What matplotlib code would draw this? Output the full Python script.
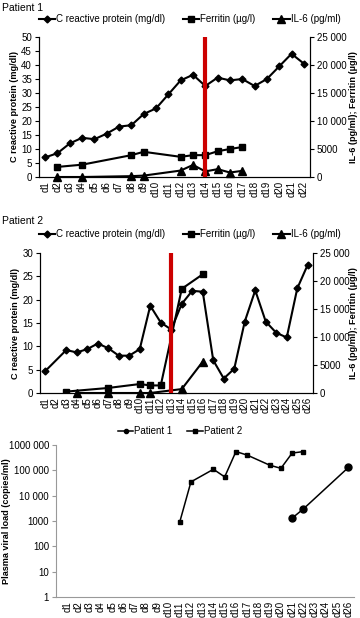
import matplotlib
matplotlib.use('Agg')
import matplotlib.pyplot as plt
from matplotlib.lines import Line2D

plt.rcParams['font.family'] = ['Liberation Sans', 'DejaVu Sans']
plt.rcParams['font.size'] = 7

# ---- data ----
p1_days = ['d%d' % i for i in range(1, 23)]
p2_days = ['d%d' % i for i in range(1, 27)]

# patient 1
crp1_days = p1_days
crp1 = [7, 8.5, 12, 14, 13.5, 15.5, 18, 18.5, 22.5, 24.5, 29.5, 34.5, 36.5,
        32.5, 35.5, 34.5, 35, 32.5, 35, 39.5, 44, 40.5]
ferr1_days = ['d2', 'd4', 'd8', 'd9', 'd12', 'd13', 'd14', 'd15', 'd16', 'd17']
ferr1 = [1800, 2200, 3900, 4500, 3600, 3900, 3900, 4600, 5000, 5350]
il6_1_days = ['d2', 'd4', 'd8', 'd9', 'd12', 'd13', 'd14', 'd15', 'd16', 'd17']
il6_1 = [0, 0, 150, 250, 1150, 2150, 1000, 1400, 800, 1100]
event1 = 'd14'

# patient 2
crp2_days = ['d1', 'd3', 'd4', 'd5', 'd6', 'd7', 'd8', 'd9', 'd10', 'd11', 'd12',
             'd13', 'd14', 'd15', 'd16', 'd17', 'd18', 'd19', 'd20', 'd21', 'd22',
             'd23', 'd24', 'd25', 'd26']
crp2 = [4.7, 9.2, 8.7, 9.4, 10.6, 9.6, 8, 8, 9.4, 18.7, 15.1, 13.6, 19.1, 21.9,
        21.7, 7, 3.1, 5.2, 15.3, 22, 15.3, 12.9, 11.9, 22.4, 27.5]
ferr2_days = ['d3', 'd7', 'd10', 'd11', 'd12', 'd14', 'd16']
ferr2 = [250, 900, 1600, 1350, 1350, 18600, 21200]
il6_2_days = ['d4', 'd7', 'd10', 'd11', 'd14', 'd16']
il6_2 = [0, 0, 0, 0, 700, 5600]
event2 = 'd13'

# viral load
vl1_days = ['d11', 'd12', 'd14', 'd15', 'd16', 'd17', 'd19', 'd20', 'd21', 'd22']
vl1 = [900, 35000, 110000, 55000, 550000, 400000, 160000, 120000, 480000, 550000]
vl2_days = ['d21', 'd22', 'd26']
vl2 = [1300, 3000, 130000]
vl_ticks = [1, 10, 100, 1000, 10000, 100000, 1000000]
vl_ticklabels = ['1', '10', '100', '1000', '10 000', '100 000', '1000 000']
right_ticks = [0, 5000, 10000, 15000, 20000, 25000]
right_ticklabels = ['0', '5000', '10 000', '15 000', '20 000', '25 000']

W, H = 360, 618
fig = plt.figure(figsize=(W / 100, H / 100), dpi=100)


def box(l, r, t, b):
    return [l / W, 1 - b / H, (r - l) / W, (b - t) / H]


def idx(days, cats):
    return [cats.index(d) for d in days]


def inflam_panel(rect, cats, crp_days, crp, ferr_days, ferr, il6_days, il6,
                 event, ymax, lab_left, lab_right):
    ax = fig.add_axes(rect)
    ax2 = ax.twinx()
    ax.set_zorder(ax2.get_zorder() + 1)
    ax.patch.set_visible(False)
    ax.plot(idx(crp_days, cats), crp, color='black', lw=1.5, marker='D', ms=3.5)
    ax2.plot(idx(ferr_days, cats), ferr, color='black', lw=1.5, marker='s', ms=5)
    ax2.plot(idx(il6_days, cats), il6, color='black', lw=1.5, marker='^', ms=6,
             clip_on=False)
    ax.axvline(cats.index(event), color='#cc0000', lw=3, zorder=5)
    ax.set_xlim(-0.5, len(cats) - 0.5)
    ax.set_ylim(0, ymax)
    ax2.set_ylim(0, 25000)
    ax.set_yticks(range(0, ymax + 1, 5))
    ax2.set_yticks(right_ticks)
    ax2.set_yticklabels(right_ticklabels)
    ax.set_xticks(range(len(cats)))
    ax.set_xticklabels(cats, rotation=90)
    for a in (ax, ax2):
        a.spines['top'].set_visible(False)
        a.tick_params(length=3, width=0.8, pad=2, labelsize=7)
    ax.tick_params(axis='x', length=0, pad=3)
    ax.set_ylabel('C reactive protein (mg/dl)', fontweight='bold', fontsize=6.6)
    ax2.set_ylabel('IL-6 (pg/ml); Ferritin (µg/l)', fontweight='bold', fontsize=6.6)
    ax.yaxis.set_label_coords(lab_left, 0.5)
    ax2.yaxis.set_label_coords(lab_right, 0.5)
    return ax


def inflam_legend(y):
    handles = [Line2D([], [], color='black', lw=1.5, marker='D', ms=3.5),
               Line2D([], [], color='black', lw=1.5, marker='s', ms=5),
               Line2D([], [], color='black', lw=1.5, marker='^', ms=5.5)]
    labels = ['C reactive protein (mg/dl)', 'Ferritin (µg/l)', 'IL-6 (pg/ml)']
    fig.legend(handles, labels, loc='center left',
               bbox_to_anchor=(30 / W, 1 - y / H),
               ncol=3, frameon=False, fontsize=7, handlelength=1.7,
               handletextpad=0.1, columnspacing=1.8)


# ---- Patient 1 ----
fig.text(2 / W, 1 - 8 / H, 'Patient 1', fontsize=7.5, va='center')
inflam_legend(19)
inflam_panel(box(39, 310, 37, 177), p1_days, crp1_days, crp1, ferr1_days, ferr1,
             il6_1_days, il6_1, event1, 50, -0.074, 1.145)

# ---- Patient 2 ----
fig.text(2 / W, 1 - 221 / H, 'Patient 2', fontsize=7.5, va='center')
inflam_legend(234)
inflam_panel(box(40, 313, 253, 393), p2_days, crp2_days, crp2, ferr2_days, ferr2,
             il6_2_days, il6_2, event2, 30, -0.073, 1.133)

# ---- Viral load ----
ax3 = fig.add_axes(box(56, 354, 445, 597))
ax3.plot(idx(vl1_days, p2_days), vl1, color='black', lw=1.1, marker='s', ms=3.5,
         label='Patient 1')
ax3.plot(idx(vl2_days, p2_days), vl2, color='black', lw=1.1, marker='o', ms=5,
         label='Patient 2')
ax3.set_yscale('log')
ax3.set_ylim(1, 1000000)
ax3.set_yticks(vl_ticks)
ax3.set_yticklabels(vl_ticklabels)
ax3.minorticks_off()
ax3.set_xlim(-1, 25.5)
ax3.set_xticks(range(len(p2_days)))
ax3.set_xticklabels(p2_days, rotation=90)
for s in ('top', 'right'):
    ax3.spines[s].set_visible(False)
for s in ('left', 'bottom'):
    ax3.spines[s].set_color('#999999')
ax3.tick_params(axis='y', length=3, color='#999999', pad=2, labelsize=7)
ax3.tick_params(axis='x', length=0, pad=3, labelsize=7)
ax3.set_ylabel('Plasma viral load (copies/ml)', fontweight='bold', fontsize=6.6)
ax3.yaxis.set_label_coords(-0.152, 0.5)
leg_handles = [Line2D([], [], color='black', lw=1.1, marker='o', ms=3),
               Line2D([], [], color='black', lw=1.1, marker='s', ms=3)]
fig.legend(leg_handles, ['Patient 1', 'Patient 2'], loc='center',
           bbox_to_anchor=(180 / W, 1 - 431 / H), ncol=2, frameon=False,
           fontsize=7, handlelength=1.6, handletextpad=0.1, columnspacing=1.5)

fig.savefig('out.png', dpi=100)
